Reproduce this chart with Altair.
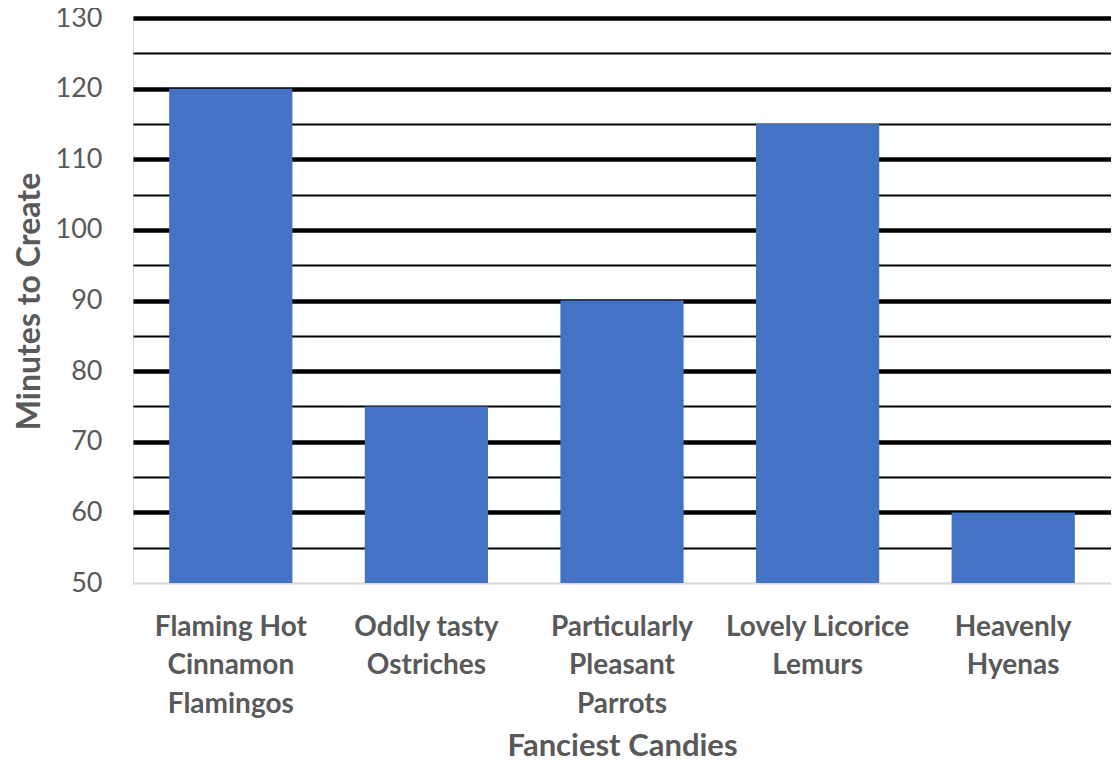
import altair as alt
import pandas as pd

categories = [
    "Flaming Hot\nCinnamon\nFlamingos",
    "Oddly tasty\nOstriches",
    "Particularly\nPleasant\nParrots",
    "Lovely Licorice\nLemurs",
    "Heavenly\nHyenas",
]
minutes = [120, 75, 90, 115, 60]
y_ticks = list(range(50, 131, 5))

df = pd.DataFrame({"candy": categories, "minutes": minutes})

FONT = "Lato"
TEXT = "#595959"

chart = (
    alt.Chart(df)
    .mark_bar(color="#4472C4")
    .encode(
        x=alt.X(
            "candy:N",
            sort=None,
            scale=alt.Scale(paddingInner=0.37, paddingOuter=0.185),
            axis=alt.Axis(
                title="Fanciest Candies",
                labelAngle=0,
                labelExpr="split(datum.label, '\\n')",
                labelFont=FONT,
                labelFontSize=28,
                labelFontWeight="bold",
                labelColor=TEXT,
                labelLineHeight=38.5,
                labelBaseline="alphabetic",
                labelPadding=52,
                labelLimit=0,
                ticks=False,
                tickSize=0,
                domain=True,
                domainColor="#d9d9d9",
                domainWidth=1.5,
                titleFont=FONT,
                titleFontSize=31,
                titleFontWeight="bold",
                titleColor=TEXT,
                titleBaseline="alphabetic",
                titleX=489,
                titleY=172,
                titleAlign="center",
            ),
        ),
        y=alt.Y(
            "minutes:Q",
            scale=alt.Scale(domain=[50, 130], nice=False, zero=False),
            axis=alt.Axis(
                title="Minutes to Create",
                values=y_ticks,
                labelExpr="datum.value % 10 === 0 ? datum.label : ''",
                labelFont=FONT,
                labelFontSize=27,
                labelColor=TEXT,
                labelPadding=31,
                ticks=False,
                tickSize=0,
                domain=False,
                grid=True,
                gridColor={
                    "condition": {"test": "datum.value === 50", "value": "#d9d9d9"},
                    "value": "#000000",
                },
                gridWidth={
                    "condition": {"test": "datum.value % 10 === 0 && datum.value !== 50", "value": 4.5},
                    "value": 2,
                },
                titleFont=FONT,
                titleFontSize=32,
                titleFontWeight="bold",
                titleColor=TEXT,
                titleAngle=-90,
                titleBaseline="middle",
                titleAlign="center",
                titleX=-104,
                titleY=283,
            ),
        ),
        y2=alt.datum(50),
    )
    .properties(
        width=978,
        height=565,
        autosize=alt.AutoSizeParams(type="none"),
        padding={"left": 125, "top": 10, "right": 0, "bottom": 176},
    )
    .configure_view(stroke=None)
    .configure(background="white")
)

chart.save("out.html", embed_options={"renderer": "svg", "actions": False})
